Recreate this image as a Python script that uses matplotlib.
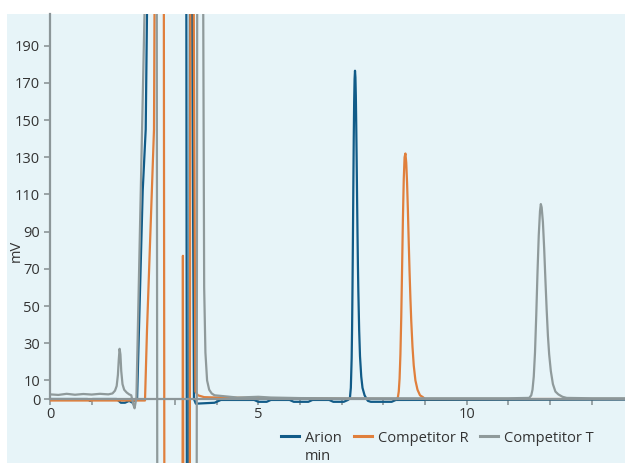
import matplotlib
matplotlib.use("Agg")
import matplotlib.pyplot as plt
from matplotlib.patches import Rectangle

plt.rcParams['font.family'] = ['Open Sans', 'DejaVu Sans']

# ---------------- data (time in min, signal in mV) ----------------
arion_t = [0, 0.9, 0.96, 1.02, 1.6, 1.70, 1.80, 1.90, 1.98, 2.02, 2.09, 2.225, 2.297, 2.354,
           3.27, 3.285, 3.34, 3.36, 3.40, 3.455, 3.5, 3.95, 4.1, 4.9, 5.0, 5.2, 5.3, 5.75, 5.85,
           6.2, 6.3, 6.7, 6.8, 7.05, 7.15, 7.18, 7.20, 7.22, 7.24, 7.25, 7.26, 7.27, 7.28, 7.29,
           7.30, 7.31, 7.32, 7.33, 7.34, 7.35, 7.36, 7.37, 7.38, 7.39, 7.40, 7.42, 7.44, 7.47,
           7.50, 7.55, 7.60, 7.63, 7.7, 8.2, 8.3, 13.8]
arion_v = [0, 0, -1, 0, 0, -2, -2, -1, -2, -1, 0, 112, 145, 260,
           260, -60, -60, 260, 260, 0, -2.5, -2, -0.5, -0.5, -1.5, -1.5, -0.5, -0.5, -1.5,
           -1.5, -0.5, -0.5, -1.5, -1.5, -0.5, 0, 1, 6, 22, 38, 60, 86, 114, 140,
           160, 172, 176.5, 173, 163, 147, 128, 108, 89, 72, 58, 37, 23, 12,
           6, 2, 0, -1, -1.5, -1.5, -0.5, -0.3]

compR_t = [0, 2.28, 2.328, 2.496, 2.508, 2.515, 2.73, 2.745, 3.18, 3.19, 3.20, 3.355, 3.37,
           3.44, 3.49, 3.55, 3.7, 4.0, 5.0, 6.0, 8.32, 8.35, 8.37, 8.39, 8.41, 8.43, 8.45, 8.47,
           8.49, 8.51, 8.53, 8.55, 8.57, 8.59, 8.61, 8.63, 8.65, 8.67, 8.70, 8.73, 8.77, 8.82,
           8.88, 8.95, 9.0, 13.8]
compR_v = [-0.8, -0.8, 37, 145, 207, 260, 260, -60, -60, 77, -60, -60, 260,
           260, 4, 2, 1, 0.8, 0.5, 0.3, 0, 1, 4, 11, 24, 44, 70, 97,
           118, 130, 132, 127, 116, 101, 84, 68, 54, 42, 28, 18, 10, 5,
           2, 1, 0, 0]

compT_t = [0, 0.2, 0.4, 0.6, 0.8, 1.0, 1.2, 1.4, 1.50, 1.56, 1.60, 1.63, 1.65, 1.67, 1.69,
           1.71, 1.74, 1.78, 1.84, 1.90, 1.95, 2.00, 2.03, 2.06, 2.073, 2.318, 2.56, 2.575,
           3.52, 3.535, 3.67, 3.70, 3.73, 3.77, 3.82, 3.88, 3.95, 4.5, 5.0, 5.3, 6.0, 7.0, 8.0,
           9.0, 10.0, 11.0, 11.50, 11.55, 11.58, 11.61, 11.64, 11.67, 11.70, 11.73, 11.76,
           11.78, 11.80, 11.83, 11.86, 11.89, 11.92, 11.95, 11.98, 12.02, 12.07, 12.13, 12.20,
           12.30, 12.40, 13.0, 13.8]
compT_v = [2.5, 2.2, 2.8, 2.3, 2.7, 2.4, 2.8, 2.5, 3, 4.5, 7, 13, 21, 27, 24,
           15, 8, 5, 3.5, 2.5, 2, -3, -5, -1, 0, 260, 260, -60,
           -60, 260, 260, 60, 25, 10, 5, 3, 2, 0.8, 1.2, 0.8, 0.5, 0.4, 0.4,
           0.4, 0.4, 0.4, 0.6, 2, 5, 12, 25, 45, 68, 88, 101,
           104.8, 103, 95, 81, 64, 48, 34, 24, 15, 8, 4, 2.5,
           1.2, 0.6, 0.4, 0.4]

series_names = ["Arion", "Competitor R", "Competitor T"]
series_colors = ["#115b88", "#e07f3c", "#8f9a9b"]

y_ticks = [0, 10, 30, 50, 70, 90, 110, 130, 150, 170, 190]
x_major = [0, 5, 10]
x_minor = list(range(0, 14))

# ---------------- figure ----------------
W, H, DPI = 625, 463, 100
FS = 10.5
TXT = "#333333"
fig = plt.figure(figsize=(W / DPI, H / DPI), dpi=DPI, facecolor="white")
bg = "#e7f4f8"
fig.patches.append(Rectangle((7 / W, 0), 1 - 7 / W, 1 - 14 / H, transform=fig.transFigure,
                             facecolor=bg, edgecolor="none", zorder=-5))

ax = fig.add_axes([50 / W, 0, 1 - 50 / W, 1 - 14 / H])
ax.set_facecolor(bg)
ax.set_xlim(0, 13.8)
ax.set_ylim(-34.4, 207)

lines = []
for t, v, name, c in zip([arion_t, compR_t, compT_t], [arion_v, compR_v, compT_v],
                         series_names, series_colors):
    ln, = ax.plot(t, v, color=c, lw=1.6, label=name, zorder=2, solid_joinstyle="round")
    lines.append(ln)

axis_c = "#8c9699"
for s in ["top", "right"]:
    ax.spines[s].set_visible(False)
ax.spines["left"].set_position(("data", 0))
ax.spines["bottom"].set_position(("data", 0))
for s in ["left", "bottom"]:
    ax.spines[s].set_color(axis_c)
    ax.spines[s].set_linewidth(1.6)
    ax.spines[s].set_zorder(3)
ax.spines["left"].set_bounds(0, 207)

ax.set_yticks(y_ticks)
ax.set_xticks(x_major)
ax.set_xticks(x_minor, minor=True)
ax.tick_params(axis="y", length=4.5, width=1.2, color=axis_c, labelsize=FS,
               labelcolor=TXT, pad=2.5)
ax.tick_params(axis="x", which="both", length=4, width=1.2, color=axis_c, labelsize=FS,
               labelcolor=TXT, pad=1.5)
ax.tick_params(axis="x", which="minor", labelbottom=False)

fig.text(16 / W, 1 - 251 / H, "mV", rotation=90, ha="center", va="center",
         fontsize=FS, color=TXT)
fig.text(318 / W, 1 - 456 / H, "min", ha="center", va="center", fontsize=FS, color=TXT)

leg = ax.legend(handles=lines, ncol=3, frameon=False, loc="center",
                bbox_to_anchor=(437.5 / W, 1 - 438 / H), bbox_transform=fig.transFigure,
                fontsize=FS, handlelength=1.25, handletextpad=0.4, columnspacing=0.8,
                labelcolor=TXT, borderpad=0, borderaxespad=0)
for h in leg.legend_handles:
    h.set_linewidth(2.2)

fig.savefig("out.png", dpi=DPI, facecolor="white")
